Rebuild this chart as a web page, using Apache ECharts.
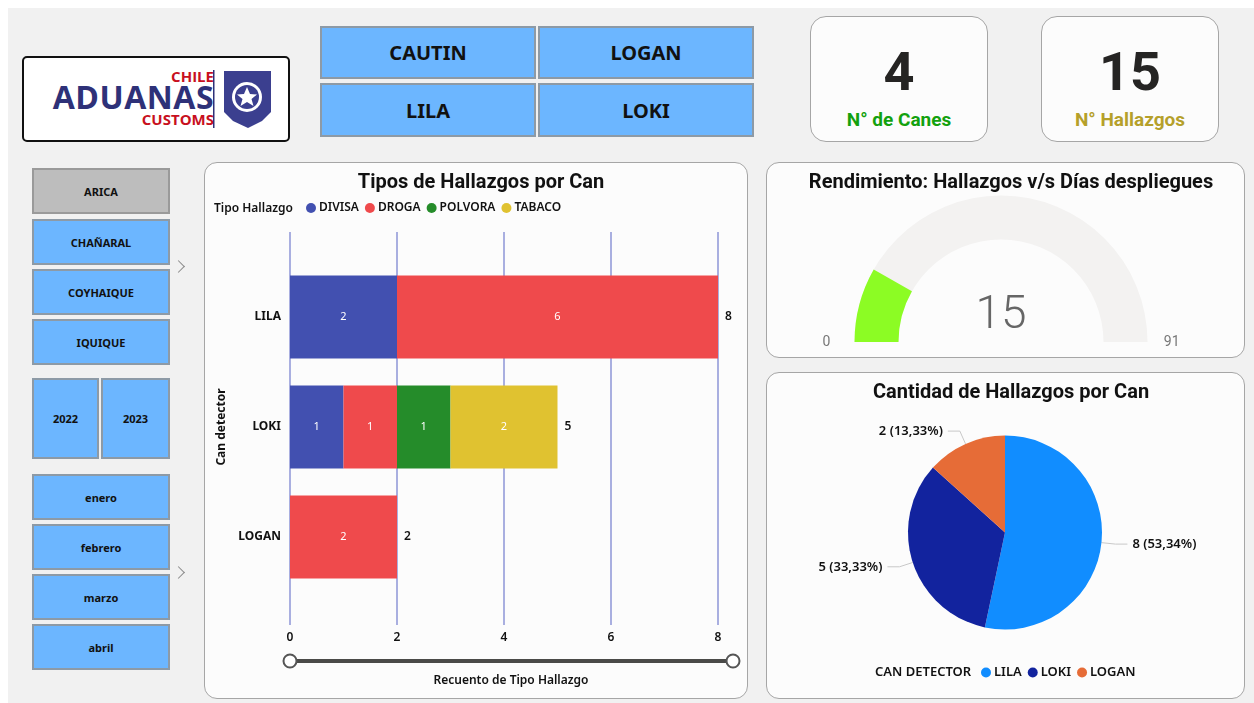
<!DOCTYPE html>
<html>
<head>
<meta charset="utf-8">
<title>Hallazgos por Can</title>
<script src="https://cdn.jsdelivr.net/npm/echarts@6/dist/echarts.min.js"></script>
<style>
  html,body{margin:0;padding:0;background:#fff;}
  #page{position:relative;width:1254px;height:703px;overflow:hidden;font-family:"Noto Sans",sans-serif;}
  #bg{position:absolute;left:8px;top:8px;width:1246px;height:695px;background:#f1f1f1;}
  #main{position:absolute;left:0;top:0;width:1254px;height:703px;}
  .card{position:absolute;box-sizing:border-box;background:#fcfcfc;border:1.5px solid #a6a6a6;border-radius:13px;}
  .btn{position:absolute;box-sizing:border-box;background:#6cb6ff;border:2px solid #8d9aa6;color:#111;font-weight:700;display:flex;align-items:center;justify-content:center;}
  .btn.off{background:#bdbdbd;border-color:#9a9a9a;}
  .kpi-num{position:absolute;left:0;right:0;top:20px;text-align:center;font:700 54px Roboto,sans-serif;color:#252423;line-height:70px;}
  .kpi-lab{position:absolute;left:0;right:0;top:90px;text-align:center;font:700 19px Roboto,sans-serif;line-height:26px;}
  #logo{position:absolute;left:22px;top:56px;width:268px;height:86px;box-sizing:border-box;background:#fff;border:2.5px solid #111;border-radius:5px;}
  #logo div{position:absolute;right:74px;font-family:"Open Sans",sans-serif;font-weight:700;white-space:nowrap;}
  .chev{position:absolute;width:8px;height:8px;border-top:1.5px solid #8a8a8a;border-right:1.5px solid #8a8a8a;transform:rotate(45deg);}
</style>
</head>
<body>
<div id="page">
  <div id="bg"></div>
  <div id="logo">
    <div style="top:9px;color:#c8101e;font-size:15px;line-height:18px;">CHILE</div>
    <div style="top:21px;color:#2e3178;font-size:32px;line-height:36px;letter-spacing:0.5px;">ADUANAS</div>
    <div style="top:52px;color:#c8101e;font-size:15px;line-height:18px;">CUSTOMS</div>
    <svg style="position:absolute;left:189px;top:10px;" width="60" height="64" viewBox="0 0 60 64">
      <rect x="0" y="2" width="1.5" height="58" fill="#2e3178"/>
      <path d="M11 3H58V44L49 53L35 60L20 53L11 44Z" fill="#3b3f8f"/>
      <circle cx="34" cy="29" r="15" fill="#fff"/>
      <circle cx="34" cy="29" r="12" fill="#3b3f8f"/>
      <path d="M34 19L37 26L44 26.5L38.500 31L40.500 38L34 34L27.500 38L29.500 31L24 26.500L31 26Z" fill="#fff"/>
    </svg>
  </div>
  <div class="card" style="left:204px;top:162px;width:544px;height:537px;"></div>
  <div class="card" style="left:766px;top:162px;width:479px;height:196px;"></div>
  <div class="card" style="left:766px;top:372px;width:479px;height:327px;"></div>
  <div id="kpis"></div>
  <div id="buttons"></div>
  <div class="chev" style="left:174px;top:262px;"></div>
  <div class="chev" style="left:174px;top:568px;"></div>
  <div id="main"></div>
</div>
<script>
  // datos
  var canes = ['LILA', 'LOKI', 'LOGAN']
  var divisa = [2, 1, null]
  var droga = [6, 1, 2]
  var polvora = [null, 1, null]
  var tabaco = [null, 2, null]
  var totales = [8, 5, 2]
  var tipos = ['DIVISA', 'DROGA', 'POLVORA', 'TABACO']
  var hallazgos = 15
  var diasDespliegue = 91
  var pieValores = [8, 5, 2]
  var botonesCan = ['CAUTIN', 'LOGAN', 'LILA', 'LOKI']
  var regiones = ['ARICA', 'CHAÑARAL', 'COYHAIQUE', 'IQUIQUE']
  var anios = ['2022', '2023']
  var meses = ['enero', 'febrero', 'marzo', 'abril']
  var kpiValores = ['4', '15']
  var kpiNombres = ['N° de Canes', 'N° Hallazgos']

  var colores = ['#4250b0', '#ef4a4c', '#258c2a', '#e0c230']
  var coloresPie = ['#118dff', '#12239e', '#e66c37']
  var fontTitulo = 'Roboto, sans-serif'
  var fontTexto = '"Noto Sans", sans-serif'

  function boton(txt, x, y, w, h, size, off){
    var d = document.createElement('div')
    d.className = off ? 'btn off' : 'btn'
    d.style.cssText = 'left:'+x+'px;top:'+y+'px;width:'+w+'px;height:'+h+'px;font-size:'+size+'px;'
    d.textContent = txt
    document.getElementById('buttons').appendChild(d)
  }
  boton(botonesCan[0], 320, 26, 216, 53, 20)
  boton(botonesCan[1], 538, 26, 216, 53, 20)
  boton(botonesCan[2], 320, 83, 216, 54, 20)
  boton(botonesCan[3], 538, 83, 216, 54, 20)
  var ySlicer = [168, 219, 269, 319]
  regiones.forEach(function(r, i){ boton(r, 32, ySlicer[i], 138, 46, 11, i === 0) })
  boton(anios[0], 32, 378, 67, 81, 11)
  boton(anios[1], 101, 378, 69, 81, 11)
  var yMeses = [474, 524, 574, 624]
  meses.forEach(function(m, i){ boton(m, 32, yMeses[i], 138, 46, 11) })

  var kpiX = [810, 1041]
  var kpiColor = ['#13a10e', '#b5a02a']
  kpiValores.forEach(function(v, i){
    var c = document.createElement('div')
    c.className = 'card'
    c.style.cssText = 'left:'+kpiX[i]+'px;top:16px;width:178px;height:126px;border-radius:16px;'
    c.innerHTML = '<div class="kpi-num">'+v+'</div><div class="kpi-lab" style="color:'+kpiColor[i]+'">'+kpiNombres[i]+'</div>'
    document.getElementById('kpis').appendChild(c)
  })

  function serieBarra(nombre, datos, color){
    return {
      name: nombre,
      type: 'bar',
      stack: 'total',
      xAxisIndex: 1,
      yAxisIndex: 1,
      barWidth: 83,
      data: datos,
      itemStyle: {color: color},
      label: {show: true, position: 'inside', color: '#fff', fontSize: 11, fontFamily: fontTexto}
    }
  }

  var chart = echarts.init(document.getElementById('main'))
  var option = {
    backgroundColor: 'transparent',
    animation: false,
    title: [
      {text: 'Tipos de Hallazgos por Can', left: 476, top: 168, textAlign: 'center', textStyle: {fontFamily: fontTitulo, fontSize: 20, fontWeight: 700, color: '#111'}},
      {text: 'Rendimiento: Hallazgos v/s Días despliegues', left: 1006, top: 168, textAlign: 'center', textStyle: {fontFamily: fontTitulo, fontSize: 20, fontWeight: 700, color: '#111'}},
      {text: 'Cantidad de Hallazgos por Can', left: 1006, top: 378, textAlign: 'center', textStyle: {fontFamily: fontTitulo, fontSize: 20, fontWeight: 700, color: '#111'}}
    ],
    legend: [
      {data: tipos, left: 306, top: 202, itemWidth: 10, itemHeight: 10, itemGap: 6, icon: 'circle', padding: 0,
        textStyle: {fontFamily: fontTexto, fontSize: 12, fontWeight: 600, color: '#111', padding: [0, 0, 0, -2]}},
      {data: canes, left: 981, top: 666, itemWidth: 10, itemHeight: 10, itemGap: 6, icon: 'circle', padding: 0,
        textStyle: {fontFamily: fontTexto, fontSize: 13, fontWeight: 600, color: '#111', padding: [0, 0, 0, -2]}}
    ],
    graphic: [
      {type: 'text', left: 214, top: 203, style: {text: 'Tipo Hallazgo', font: '600 12px "Noto Sans"', fill: '#111'}},
      {type: 'text', left: 875, top: 666, style: {text: 'CAN DETECTOR', font: '600 13px "Noto Sans"', fill: '#111'}},
      {type: 'line', shape: {x1: 290, y1: 661, x2: 733, y2: 661}, style: {stroke: '#4a4a48', lineWidth: 4}},
      {type: 'circle', shape: {cx: 290, cy: 661, r: 6.5}, style: {fill: '#fff', stroke: '#555', lineWidth: 2}},
      {type: 'circle', shape: {cx: 733, cy: 661, r: 6.5}, style: {fill: '#fff', stroke: '#555', lineWidth: 2}}
    ],
    grid: [
      {left: 290, width: 428, top: 232, height: 393},
      {left: 290, width: 428, top: 262, height: 330}
    ],
    xAxis: [
      {
        type: 'value', gridIndex: 0, min: 0, max: 8, interval: 2,
        axisLine: {show: false}, axisTick: {show: false},
        axisLabel: {margin: 7, color: '#111', fontFamily: fontTexto, fontSize: 12, fontWeight: 600},
        splitLine: {show: true, lineStyle: {color: '#a9afe0', width: 2}},
        name: 'Recuento de Tipo Hallazgo', nameLocation: 'middle', nameGap: 50,
        nameTextStyle: {color: '#111', fontFamily: fontTexto, fontSize: 12, fontWeight: 600, padding: [0, 0, 0, 14]}
      },
      {type: 'value', gridIndex: 1, min: 0, max: 8, interval: 2, show: false, splitLine: {show: false}}
    ],
    yAxis: [
      {type: 'value', gridIndex: 0, show: false, splitLine: {show: false}},
      {
        type: 'category', gridIndex: 1, data: canes, inverse: true,
        axisLine: {show: false}, axisTick: {show: false},
        axisLabel: {margin: 9, color: '#111', fontFamily: fontTexto, fontSize: 12, fontWeight: 700},
        name: 'Can detector', nameLocation: 'middle', nameGap: 62,
        nameTextStyle: {color: '#111', fontFamily: fontTexto, fontSize: 12, fontWeight: 700}
      }
    ],
    series: [
      serieBarra(tipos[0], divisa, colores[0]),
      serieBarra(tipos[1], droga, colores[1]),
      serieBarra(tipos[2], polvora, colores[2]),
      serieBarra(tipos[3], tabaco, colores[3]),
      {
        // etiqueta con el total de cada barra
        name: 'Total', type: 'bar', stack: 'total', xAxisIndex: 1, yAxisIndex: 1, barWidth: 83,
        data: totales.map(function(){ return 0 }),
        itemStyle: {color: 'transparent'},
        label: {
          show: true, position: 'right', distance: 7, color: '#111', fontFamily: fontTexto, fontSize: 12, fontWeight: 600,
          formatter: function(p){ return totales[p.dataIndex] }
        }
      },
      {
        type: 'gauge',
        center: [1001, 342], radius: 146.5,
        startAngle: 180, endAngle: 0,
        min: 0, max: diasDespliegue, splitNumber: 1,
        data: [{value: hallazgos}],
        pointer: {show: false},
        progress: {show: true, width: 44, roundCap: false, itemStyle: {color: '#8cfc24'}},
        axisLine: {roundCap: false, lineStyle: {width: 44, color: [[1, '#f3f2f1']]}},
        axisTick: {show: false},
        splitLine: {show: false},
        axisLabel: {
          distance: -52, color: '#777', fontSize: 14, fontFamily: fontTitulo, verticalAlign: 'bottom'
        },
        title: {show: false},
        detail: {
          valueAnimation: false, offsetCenter: [0, -26], color: '#666',
          fontSize: 46, fontWeight: 300, fontFamily: fontTitulo
        }
      },
      {
        type: 'pie',
        center: [1005, 532.5], radius: 97,
        startAngle: 90,
        data: canes.map(function(c, i){ return {name: c, value: pieValores[i], itemStyle: {color: coloresPie[i]}} }),
        label: {
          color: '#111', fontFamily: fontTexto, fontSize: 13, fontWeight: 600,
          formatter: function(p){ return p.value + ' (' + p.percent.toFixed(2).replace('.', ',') + '%)' }
        },
        percentPrecision: 2,
        labelLine: {length: 14, length2: 12, lineStyle: {color: '#c8c8c8', width: 1}}
      }
    ]
  }
  chart.setOption(option)
</script>
</body>
</html>
